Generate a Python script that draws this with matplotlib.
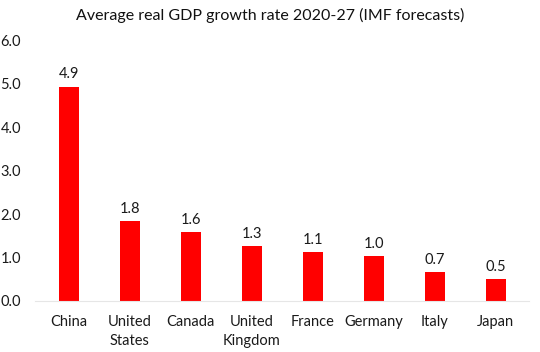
import matplotlib.pyplot as plt

countries = ["China", "United\nStates", "Canada", "United\nKingdom", "France", "Germany", "Italy", "Japan"]
growth = [4.93, 1.84, 1.59, 1.27, 1.13, 1.03, 0.67, 0.51]
labels = ["4.9", "1.8", "1.6", "1.3", "1.1", "1.0", "0.7", "0.5"]

plt.rcParams['font.family'] = ['Lato', 'DejaVu Sans']

fig = plt.figure(figsize=(5.4, 3.52), dpi=100)
ax = fig.add_axes([0.065, 0.145, 0.915, 0.741])

x = range(len(countries))
bars = ax.bar(x, growth, color='#ff0000', width=0.33)
for b, lab in zip(bars, labels):
    ax.text(b.get_x() + b.get_width() / 2, b.get_height() + 0.12, lab,
            ha='center', va='bottom', fontsize=10.5, color='#1a1a1a')

ax.set_ylim(0, 6)
ax.set_xlim(-0.55, len(countries) - 0.45)
ax.set_yticks([0, 1, 2, 3, 4, 5, 6])
ax.set_yticklabels(["%.1f" % v for v in [0, 1, 2, 3, 4, 5, 6]])
ax.set_xticks(list(x))
ax.set_xticklabels(countries, linespacing=1.45)
ax.tick_params(length=0, labelsize=10.5, colors='#1a1a1a')
ax.tick_params(axis='y', pad=10)
ax.tick_params(axis='x', pad=10)

for s in ['top', 'right', 'left']:
    ax.spines[s].set_visible(False)
ax.spines['bottom'].set_color('#e6e6e6')

fig.text(0.5, 0.955, "Average real GDP growth rate 2020-27 (IMF forecasts)",
         ha='center', va='center', fontsize=11.5, color='#111111')

plt.savefig("out.png", dpi=100)
